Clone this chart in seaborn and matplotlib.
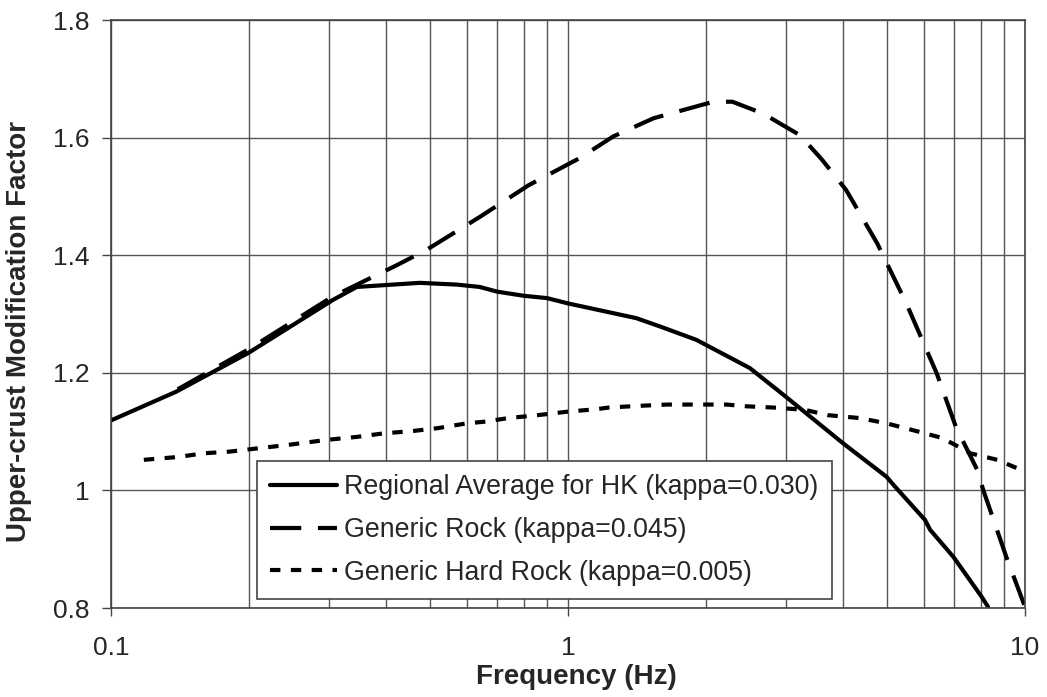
import numpy as np
import pandas as pd
import matplotlib
matplotlib.use("Agg")
import matplotlib.pyplot as plt
import seaborn as sns

# Values
freq_hk = [0.10, 0.139, 0.20, 0.306, 0.345, 0.474, 0.571, 0.641, 0.70, 0.80, 0.90, 1.0,
           1.41, 1.60, 1.91, 2.50, 3.0, 4.0, 4.98, 5.2, 6.04, 6.2, 6.97, 8.04, 8.3]
fac_hk = [1.119, 1.168, 1.234, 1.324, 1.346, 1.353, 1.350, 1.346, 1.338, 1.331, 1.327, 1.318,
          1.293, 1.278, 1.256, 1.208, 1.159, 1.080, 1.023, 1.006, 0.950, 0.933, 0.887, 0.819, 0.802]

freq_rock = [0.14, 0.20, 0.306, 0.422, 0.49, 0.641, 0.82, 1.06, 1.256, 1.54, 2.08, 2.29,
             2.67, 3.22, 3.6, 4.06, 4.75, 5.5, 6.41, 7.06, 7.86, 8.1, 9.1, 10.0]
fac_rock = [1.172, 1.240, 1.330, 1.383, 1.409, 1.465, 1.519, 1.565, 1.602, 1.633, 1.661, 1.661,
            1.641, 1.604, 1.562, 1.511, 1.420, 1.318, 1.199, 1.108, 1.035, 1.001, 0.887, 0.802]

freq_hard = [0.118, 0.141, 0.159, 0.182, 0.212, 0.242, 0.297, 0.345, 0.395, 0.458, 0.52, 0.60,
             0.66, 0.74, 0.86, 1.0, 1.15, 1.23, 1.45, 1.65, 1.91, 2.22, 2.46, 2.8, 3.3, 3.7,
             4.35, 4.98, 5.65, 6.6, 7.6, 8.7, 10.0]
fac_hard = [1.052, 1.057, 1.063, 1.066, 1.072, 1.077, 1.086, 1.091, 1.097, 1.101, 1.106, 1.114,
            1.117, 1.123, 1.128, 1.134, 1.138, 1.141, 1.144, 1.146, 1.146, 1.146, 1.143, 1.141,
            1.137, 1.128, 1.123, 1.114, 1.103, 1.089, 1.063, 1.052, 1.032]

labels = ["Regional Average for HK (kappa=0.030)",
          "Generic Rock (kappa=0.045)",
          "Generic Hard Rock (kappa=0.005)"]

df = pd.concat([
    pd.DataFrame({"freq": freq_hk, "factor": fac_hk, "series": labels[0]}),
    pd.DataFrame({"freq": freq_rock, "factor": fac_rock, "series": labels[1]}),
    pd.DataFrame({"freq": freq_hard, "factor": fac_hard, "series": labels[2]}),
])

sns.set_style("white")
plt.rcParams['font.family'] = ['Liberation Sans', 'DejaVu Sans']

fig = plt.figure(figsize=(10.47, 6.97), dpi=100)
ax = fig.add_axes([111 / 1047, 1 - 608 / 697, (1025 - 111) / 1047, (608 - 20) / 697])

sns.lineplot(data=df, x="freq", y="factor", hue="series", style="series",
             palette={l: "black" for l in labels},
             dashes={labels[0]: "", labels[1]: (7.5, 4), labels[2]: (2.5, 2.5)},
             sort=False, estimator=None, linewidth=3, ax=ax)

ax.set_xscale("log")
ax.set_xlim(0.1, 10)
ax.set_ylim(0.8, 1.8)
ax.set_xticks([0.1, 1, 10])
ax.set_xticklabels(["0.1", "1", "10"])
ax.set_xticks([m * d for d in (0.1, 1) for m in range(2, 10)], minor=True)
ax.set_yticks([0.8, 1.0, 1.2, 1.4, 1.6, 1.8])
ax.set_yticklabels(["0.8", "1", "1.2", "1.4", "1.6", "1.8"])

ax.grid(which="both", color="#555555", linewidth=1)
ax.set_axisbelow(True)
for s in ax.spines.values():
    s.set_color("#444444")
    s.set_linewidth(1.2)

ax.tick_params(axis="x", which="major", direction="out", length=6, width=1, pad=14,
               labelsize=19, bottom=True, color="#444444")
ax.tick_params(axis="x", which="minor", length=0)
ax.tick_params(axis="y", direction="out", length=6.5, width=1, pad=9, labelsize=19,
               left=True, color="#444444")

ax.set_xlabel("Frequency (Hz)", fontsize=20, fontweight="bold", va="center")
ax.xaxis.set_label_coords((576 - 111) / 914, -(677 - 608) / 588)
ax.set_ylabel("Upper-crust Modification Factor", fontsize=20, fontweight="bold", va="center")
ax.yaxis.set_label_coords((19 - 111) / 914, (608 - 331) / 588)

leg = ax.legend(loc="lower left", bbox_to_anchor=((257 - 111) / 914, (608 - 599) / 588),
                borderaxespad=0, fontsize=19.3, frameon=True, fancybox=False, framealpha=1,
                edgecolor="#444444", handlelength=2.5, handletextpad=0.25,
                labelspacing=0.62, borderpad=0.5)
leg.get_frame().set_linewidth(1.2)
for h in leg.get_lines():
    h.set_linewidth(3)

fig.savefig("out.png", dpi=100)
